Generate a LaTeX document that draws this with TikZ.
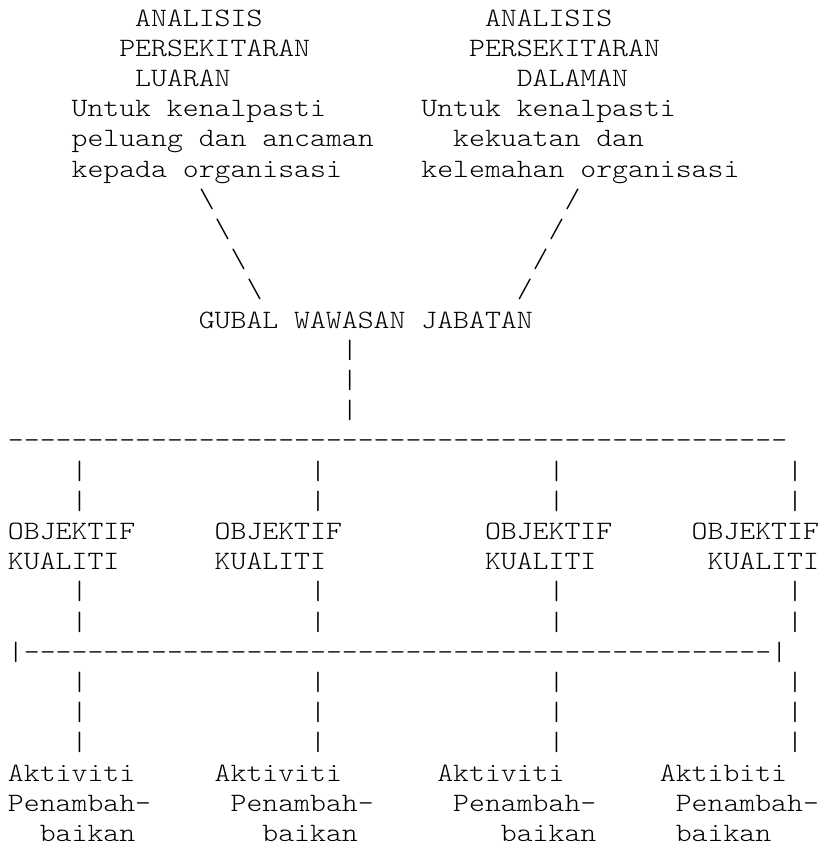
\documentclass[tikz,border=0pt]{standalone}
\usepackage{fontspec}
\setmonofont{Latin Modern Mono Light}[FakeStretch=1.143]
\def\sv{-------}
\tikzset{
  asc/.style={anchor=base west, inner sep=0pt, outer sep=0pt, text=black,
    font=\ttfamily\fontsize{26.5}{30}\selectfont}
}
\begin{document}
\begin{tikzpicture}[x=15.9pt,y=-30.2pt]
\fill[white] (-8pt,26pt) rectangle (819pt,-820pt);
\useasboundingbox (-8pt,26pt) rectangle (819pt,-820pt);
% top left block
\node[asc] (la1) at (8,0) {ANALISIS};
\node[asc] (la2) at (7,1) {PERSEKITARAN};
\node[asc] (la3) at (8,2) {LUARAN};
\node[asc] (la4) at (4,3) {Untuk kenalpasti};
\node[asc] (la5) at (4,4) {peluang dan ancaman};
\node[asc] (la6) at (4,5) {kepada organisasi};
% top right block
\node[asc] (ra1) at (30,0) {ANALISIS};
\node[asc] (ra2) at (29,1) {PERSEKITARAN};
\node[asc] (ra3) at (32,2) {DALAMAN};
\node[asc] (ra4) at (26,3) {Untuk kenalpasti};
\node[asc] (ra5) at (28,4) {kekuatan dan};
\node[asc] (ra6) at (26,5) {kelemahan organisasi};
% diagonal connectors
\node[asc] (ls1) at (12,6) {\textbackslash};
\node[asc] (ls2) at (13,7) {\textbackslash};
\node[asc] (ls3) at (14,8) {\textbackslash};
\node[asc] (ls4) at (15,9) {\textbackslash};
\node[asc] (rs1) at (35,6) {/};
\node[asc] (rs2) at (34,7) {/};
\node[asc] (rs3) at (33,8) {/};
\node[asc] (rs4) at (32,9) {/};
% centre
\node[asc] (gubal) at (12,10) {GUBAL WAWASAN JABATAN};
\foreach \l in {11,12,13} \node[asc] (cv\l) at (21,\l) {|};
\node[asc] (hline1) at (0,14) {\sv\sv\sv\sv\sv\sv\sv};
\foreach \c in {4,19,34,49} {
  \foreach \l in {15,16,19,20,22,23,24} \node[asc] (v\c-\l) at (\c,\l) {|};
}
% objectives
\node[asc] (o1a) at (0,17) {OBJEKTIF};
\node[asc] (o2a) at (13,17) {OBJEKTIF};
\node[asc] (o3a) at (30,17) {OBJEKTIF};
\node[asc] (o4a) at (43,17) {OBJEKTIF};
\node[asc] (o1b) at (0,18) {KUALITI};
\node[asc] (o2b) at (13,18) {KUALITI};
\node[asc] (o3b) at (30,18) {KUALITI};
\node[asc] (o4b) at (44,18) {KUALITI};
\node[asc] (hline2) at (0,21) {|\sv\sv\sv\sv\sv\sv-----|};
% activities
\node[asc] (a1a) at (0,25) {Aktiviti};
\node[asc] (a2a) at (13,25) {Aktiviti};
\node[asc] (a3a) at (27,25) {Aktiviti};
\node[asc] (a4a) at (41,25) {Aktibiti};
\node[asc] (a1b) at (0,26) {Penambah-};
\node[asc] (a2b) at (14,26) {Penambah-};
\node[asc] (a3b) at (28,26) {Penambah-};
\node[asc] (a4b) at (42,26) {Penambah-};
\node[asc] (a1c) at (2,27) {baikan};
\node[asc] (a2c) at (16,27) {baikan};
\node[asc] (a3c) at (31,27) {baikan};
\node[asc] (a4c) at (42,27) {baikan};
\end{tikzpicture}
\end{document}
